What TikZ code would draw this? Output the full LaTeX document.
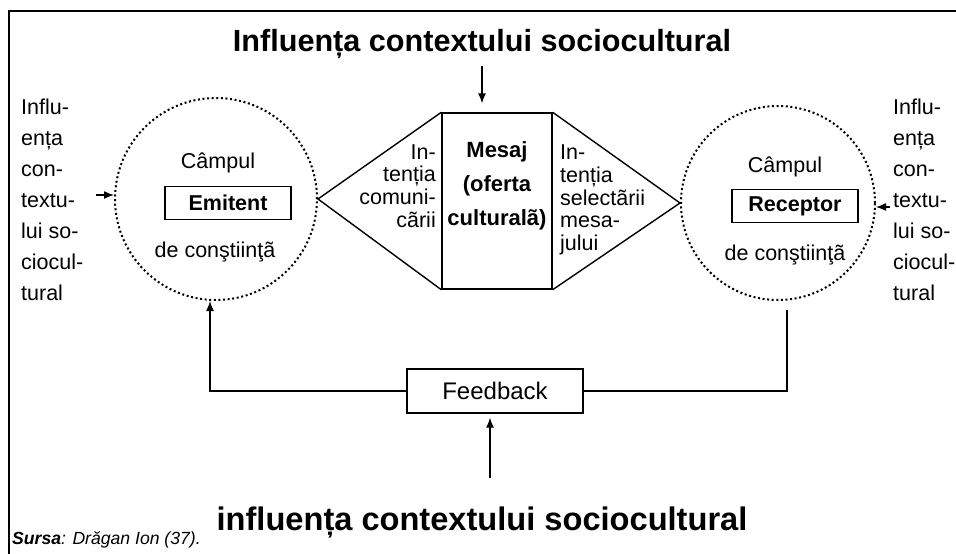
\documentclass[tikz,border=0pt]{standalone}
\usepackage{fontspec}
\setmainfont{Liberation Sans}
\usetikzlibrary{calc}
\usetikzlibrary{arrows.meta}

\begin{document}
\begin{tikzpicture}[x = 1pt, y = -1pt]

\tikzstyle{field_circ}=[circle, draw, line width = 2pt, dash pattern = on 2pt off 2.6pt, inner sep = 0pt]
\tikzstyle{role_box}=[rectangle, draw, line width = 1.4pt, font = \bfseries\fontsize{21.5}{24}\selectfont, minimum width = 126pt, minimum height = 33pt]
\tikzstyle{plain_txt}=[inner sep = 0pt, font = \fontsize{21.5}{22.7}\selectfont]
\tikzstyle{ctx_txt}=[inner sep = 0pt, font = \bfseries\fontsize{30.6}{34}\selectfont]
\tikzstyle{arr}=[-{Latex[length = 10pt, width = 8pt]}, line width = 1.3pt]

\useasboundingbox (0, 0) rectangle (956, 554);

% frame
\draw[line width = 2.5pt] (9, 554) -- (9, 11) -- (956, 11);

\coordinate (E) at (216, 199);
\coordinate (R) at (778, 203);
\coordinate (M) at (497, 201);
\coordinate (top_a) at (482, 66);
\coordinate (bot_a) at (490, 478);
\coordinate (in_l) at (96, 195);
\coordinate (in_r) at (890, 207);
\coordinate (fb_l) at (210, 301);
\coordinate (fb_r) at (787, 310);

\path
(E) node[field_circ, minimum size = 202pt](emit_field) {}
(R) node[field_circ, minimum size = 194pt](recv_field) {}
(M) node[draw, line width = 1.4pt, minimum width = 110pt, minimum height = 176pt](msg) {}
($(E) + (2, -36)$) node[plain_txt](emit_top) {Câmpul}
($(E) + (12, 4)$) node[role_box](emit) {Emitent}
($(E) + (-1, 53)$) node[plain_txt](emit_bot) {de conştiinţã}
($(R) + (7, -36)$) node[plain_txt](recv_top) {Câmpul}
($(R) + (17, 3)$) node[role_box](recv) {Receptor}
($(R) + (7, 52)$) node[plain_txt](recv_bot) {de conştiinţã}
($(M) + (0, -15)$) node[plain_txt, align = center, font = \bfseries\fontsize{22}{34}\selectfont](msg_txt) {Mesaj\\(oferta\\culturalã)}
(436, 186) node[plain_txt, anchor = east, align = right](int_com) {In-\\tenția\\comuni-\\cãrii}
(560, 200) node[plain_txt, anchor = west, align = left](int_sel) {In-\\tenția\\selectãrii\\mesa-\\jului};

\path
(21, 200) node[plain_txt, anchor = west, align = left, font = \fontsize{21.5}{31}\selectfont](ctx_l) {Influ-\\ența\\con-\\textu-\\lui so-\\ciocul-\\tural}
(893, 200) node[plain_txt, anchor = west, align = left, font = \fontsize{21.5}{31}\selectfont](ctx_r) {Influ-\\ența\\con-\\textu-\\lui so-\\ciocul-\\tural}
(482, 44) node[ctx_txt](ctx_top) {Influența contextului sociocultural}
(482, 522) node[ctx_txt, font = \bfseries\fontsize{32.6}{36}\selectfont](ctx_bot) {influența contextului sociocultural}
(495, 391) node[draw, line width = 1.4pt, minimum width = 176pt, minimum height = 44pt, font = \fontsize{24}{28}\selectfont](fb) {Feedback}
(12, 540) node[anchor = west, inner sep = 0pt, font = \itshape\fontsize{17.6}{20}\selectfont](src) {\textbf{Sursa}: Drăgan Ion (37).};

% triangles
\draw[line width = 1.4pt] (msg.north west) -- (emit_field.east) -- (msg.south west);
\draw[line width = 1.4pt] (msg.north east) -- (recv_field.west) -- (msg.south east);

% arrows
\draw[arr, shorten >= 9pt] (top_a) -- (top_a |- msg.north);
\draw[arr, shorten >= 4pt] (bot_a) -- (bot_a |- fb.south);
\draw[arr] (in_l) -- (in_l -| emit_field.west);
\draw[arr] (in_r) -- (in_r -| recv_field.east);

% feedback loop
\draw[line width = 1.3pt] (fb_r) -- (fb_r |- fb.east) -- (fb.east);
\draw[arr] (fb.west) -- (fb_l |- fb.west) -- (fb_l);

\end{tikzpicture}
\end{document}
